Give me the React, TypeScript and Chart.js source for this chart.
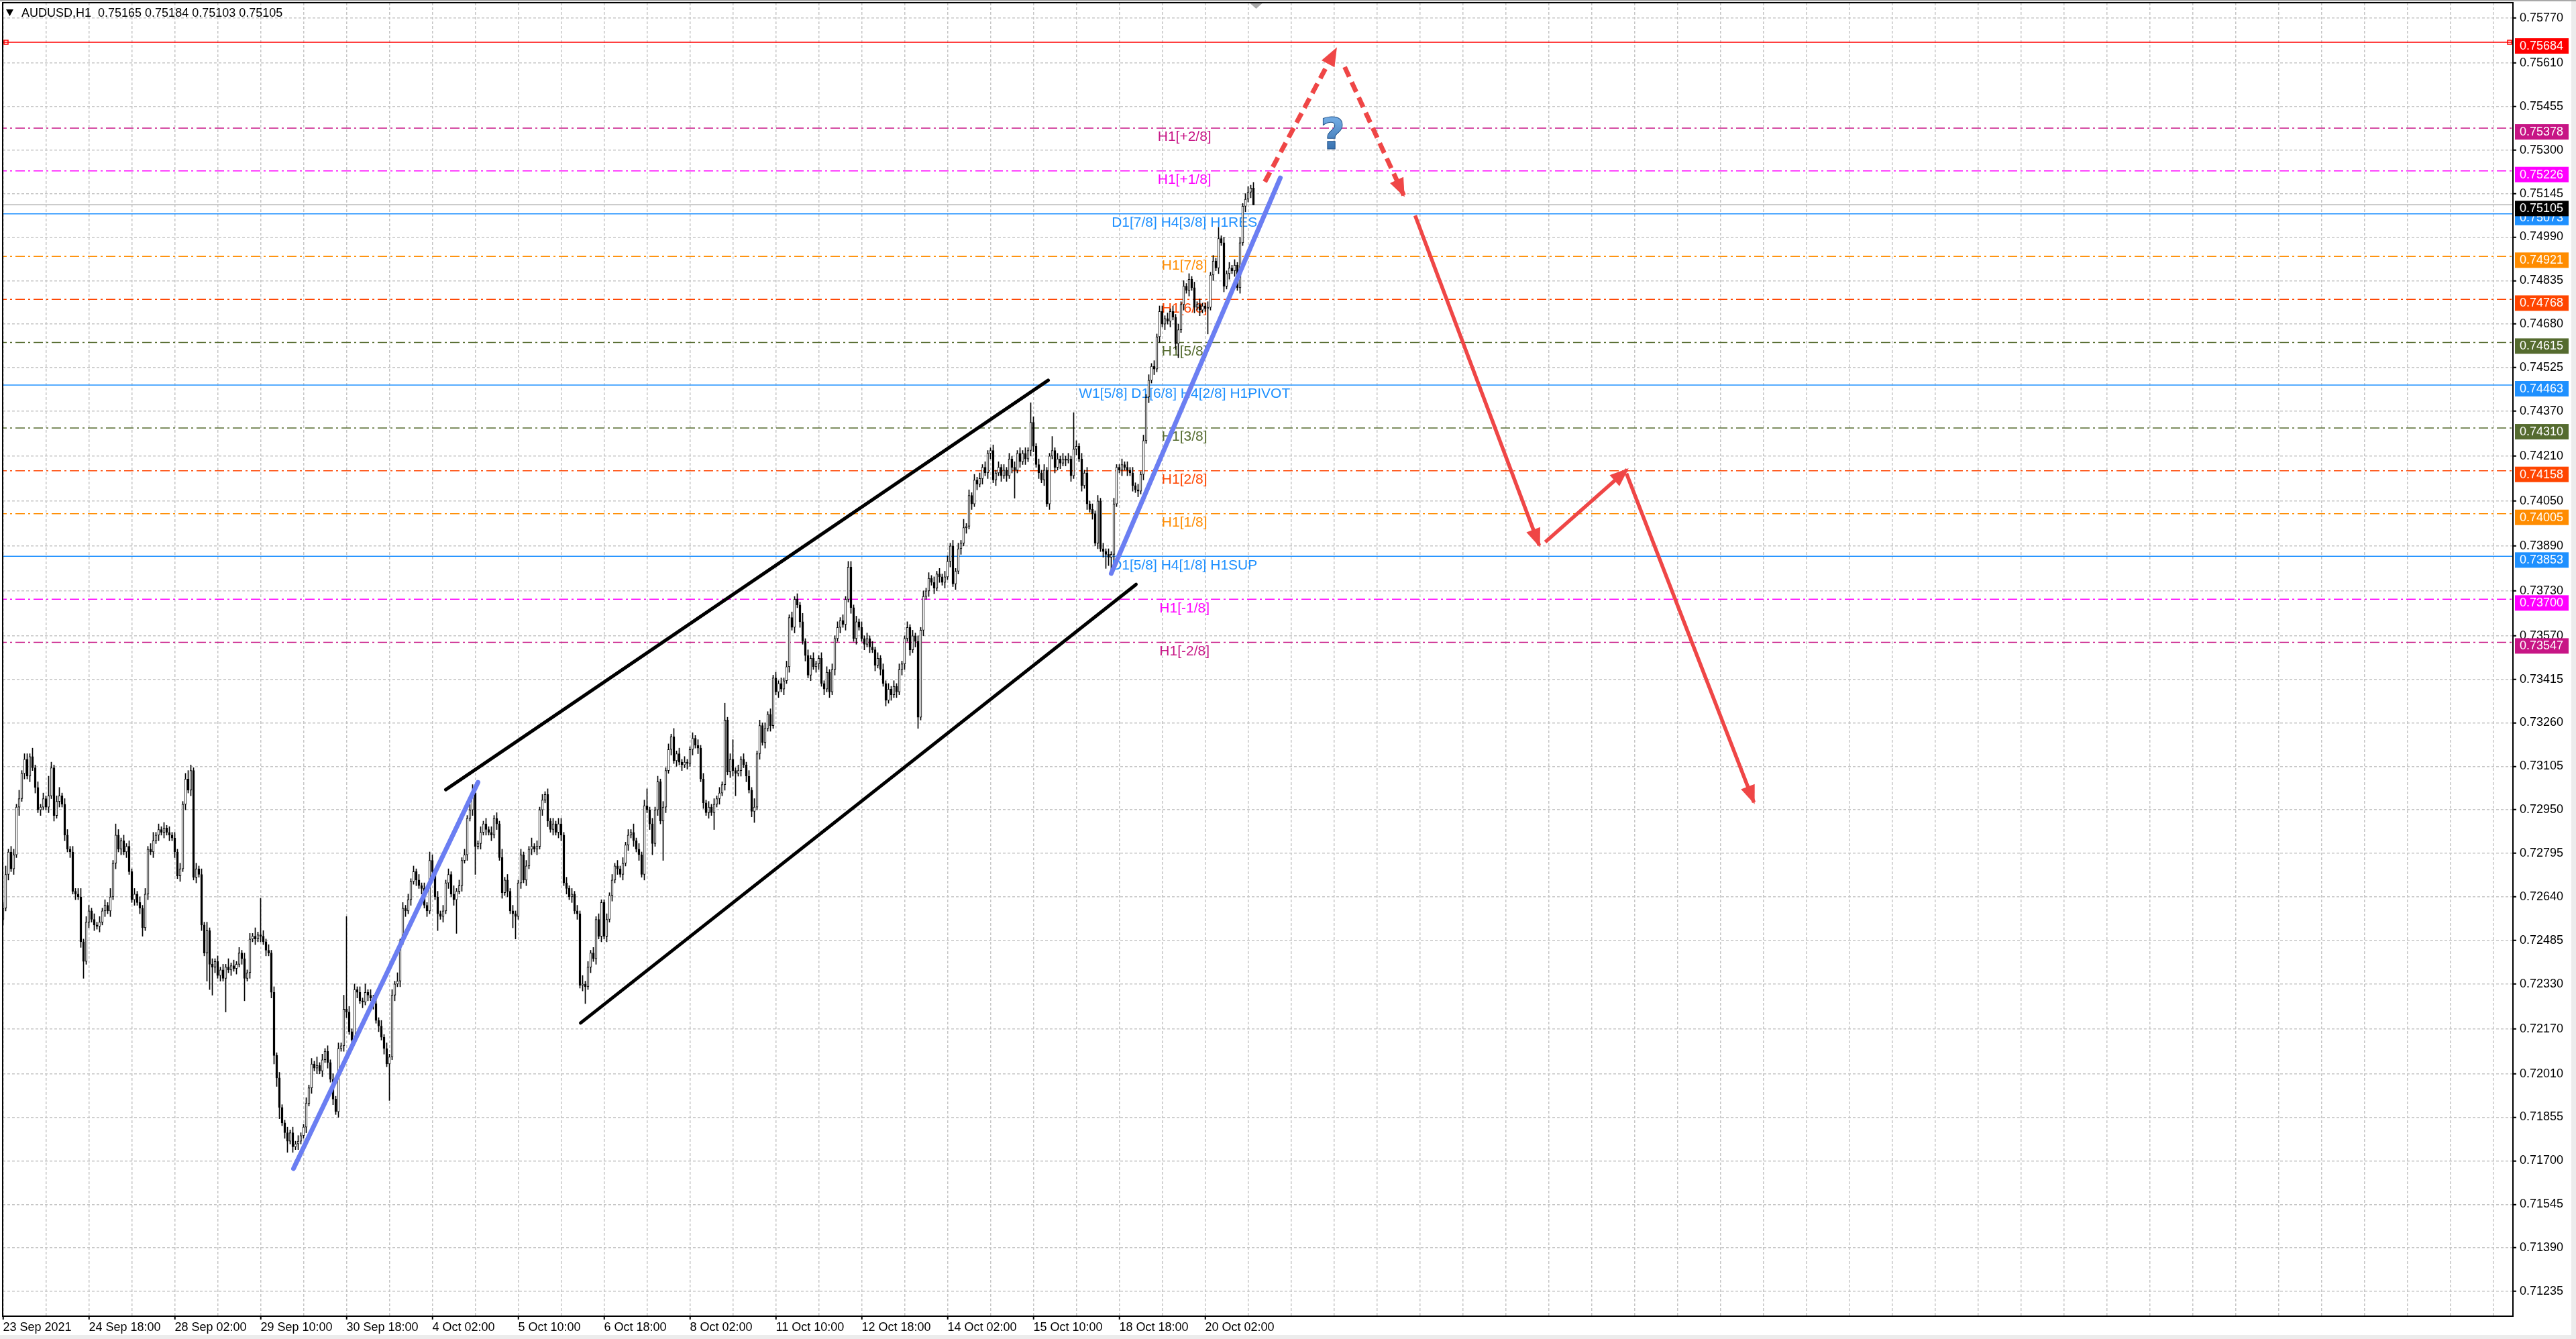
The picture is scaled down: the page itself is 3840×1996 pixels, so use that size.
import { useEffect, useRef } from "react"
import { Chart, registerables } from "chart.js"

Chart.register(...registerables)

// ---- data (prices in 0.00001 units above 0.70000) ----
const SYMBOL = "AUDUSD,H1"
const LAST_OHLC = [0.75165, 0.75184, 0.75103, 0.75105]
const PRICE_BASE = 0.7
const PRICE_UNIT = 0.00001
const PIP = 10

const FIRST_OPEN = 2560
// hourly closes, 16 bars per row (one grid cell)
const CLOSES = [
  2600, 2720, 2800, 2740, 2790, 2960, 2990, 3080, 3130, 3070, 3140, 3100, 3030, 2950, 2960, 2990,
  2960, 3000, 3100, 2930, 2980, 3000, 2970, 2860, 2810, 2800, 2660, 2650, 2640, 2480, 2410, 2550,
  2590, 2560, 2540, 2535, 2550, 2590, 2610, 2590, 2640, 2760, 2860, 2810, 2840, 2800, 2820, 2730,
  2630, 2650, 2620, 2600, 2530, 2650, 2810, 2800, 2840, 2860, 2880, 2870, 2885, 2870, 2860, 2850,
  2800, 2715, 2740, 2970, 3060, 3020, 3090, 2710, 2740, 2720, 2540, 2440, 2520, 2400, 2390, 2410,
  2360, 2380, 2350, 2390, 2380, 2395, 2385, 2400, 2440, 2420, 2350, 2370, 2490, 2500, 2490, 2505,
  2500, 2480, 2450, 2440, 2300, 2075, 1995, 1890, 1835, 1800, 1770, 1800, 1750, 1760, 1770, 1790,
  1820, 1905, 1960, 2045, 2030, 2040, 2020, 2060, 2090, 2050, 1990, 1920, 1875, 2100, 2110, 2240,
  2230, 2160, 2130, 2310, 2300, 2270, 2265, 2300, 2290, 2280, 2260, 2200, 2180, 2140, 2100, 2045,
  2070, 2290, 2330, 2340, 2480, 2600, 2590, 2630, 2695, 2730, 2700, 2680, 2670, 2610, 2590, 2770,
  2730, 2640, 2580, 2570, 2590, 2690, 2720, 2650, 2630, 2660, 2680, 2770, 2790, 2920, 2950, 3010,
  2820, 2830, 2870, 2900, 2880, 2870, 2860, 2920, 2900, 2780, 2655, 2700, 2660, 2590, 2580, 2570,
  2690, 2790, 2700, 2750, 2810, 2820, 2810, 2820, 2950, 2985, 3005, 2910, 2880, 2900, 2870, 2900,
  2860, 2690, 2670, 2640, 2650, 2590, 2580, 2325, 2330, 2320, 2390, 2440, 2420, 2560, 2500, 2620,
  2500, 2560, 2645, 2700, 2750, 2740, 2720, 2760, 2825, 2860, 2870, 2840, 2810, 2790, 2720, 2965,
  2950, 2900, 2830, 2950, 3050, 2910, 2960, 3090, 3165, 3210, 3125, 3150, 3120, 3110, 3120, 3115,
  3165, 3205, 3180, 3170, 3060, 2975, 2940, 2960, 2940, 2970, 2990, 3010, 3040, 3270, 3085, 3130,
  3090, 3080, 3090, 3130, 3110, 3070, 3020, 2945, 2960, 3150, 3250, 3190, 3240, 3290, 3250, 3420,
  3370, 3400, 3380, 3410, 3460, 3635, 3600, 3700, 3680, 3620, 3550, 3500, 3430, 3490, 3460, 3470,
  3490, 3400, 3380, 3440, 3370, 3450, 3560, 3600, 3625, 3610, 3700, 3815, 3670, 3560, 3620, 3600,
  3560, 3540, 3560, 3530, 3520, 3465, 3490, 3450, 3400, 3340, 3380, 3360, 3390, 3370, 3450, 3470,
  3560, 3600, 3520, 3570, 3550, 3280, 3590, 3710, 3730, 3775, 3760, 3740, 3790, 3780, 3760, 3780,
  3835, 3890, 3755, 3800, 3880, 3900, 3955, 3960, 4070, 4040, 4125, 4110, 4130, 4170, 4150, 4220,
  4230, 4125, 4150, 4170, 4140, 4160, 4140, 4200, 4170, 4160, 4220, 4190, 4220, 4200, 4230, 4330,
  4245, 4180, 4150, 4125, 4160, 4040, 4210, 4230, 4170, 4200, 4185, 4200, 4195, 4200, 4140, 4235,
  4245, 4200, 4105, 4150, 4040, 4020, 4005, 3900, 4050, 3880, 3870, 3860, 3850, 3860, 4040, 4170,
  4160, 4180, 4170, 4160, 4150, 4105, 4090, 4085, 4145, 4265, 4420, 4480, 4530, 4520, 4635, 4725,
  4680, 4700, 4690, 4725, 4705, 4610, 4660, 4750, 4815, 4800, 4840, 4810, 4740, 4750, 4730, 4745,
  4735, 4740, 4855, 4905, 4880, 4985, 4970, 4815, 4860, 4880, 4870, 4890, 4810, 4970, 5100, 5125,
  5150, 5165, 5105,
]
// wick lengths in pips (base-36 digits), same row layout as CLOSES
const WICK_UP = [
  "2312213122131212", "1721231221212312", "2121212131421212", "1212121231212121",
  "2121232121213121", "2121312121212131", "d212121211212121", "1212131212121215",
  "x212121312121212", "1213121212121213", "2121212131212123", "2121212121312121",
  "1212131212121212", "2121212131212121", "1212121212131212", "6121212121312121",
  "1212121212121612", "7121212131212121", "2121212121312121", "1212121212122121",
  "2121212121212121", "1212121212121212", "2121213121212121", "1212121212121217",
  "212121151212121d", "2121212121212121", "1212121212121212", "2121212121212121",
  "1212141212121212", "212",
].join("")
const WICK_DOWN = [
  "2121213121212121", "1212121212121261", "2121212121212121", "1212312121212121",
  "212121212121a9a2", "121c121212812121", "2121233412412121", "1212121212121212",
  "2121212121212121", "d121212121212121", "216121212c121212", "a121212121212158",
  "1212121212121212", "2121212126121212", "1212121212121212", "124121e212121212",
  "1212121216121212", "2812121241212121", "1212121212121212", "2121212121212121",
  "1212121212121212", "2121241212121212", "1212121212121212", "212121212a121212",
  "2121212121212121", "2121212121253521", "1212121212121212", "1212125121212121",
  "1912121212121212", "120",
].join("")

const TIME_LABELS = [
  "23 Sep 2021", "24 Sep 18:00", "28 Sep 02:00", "29 Sep 10:00", "30 Sep 18:00",
  "4 Oct 02:00", "5 Oct 10:00", "6 Oct 18:00", "8 Oct 02:00", "11 Oct 10:00",
  "12 Oct 18:00", "14 Oct 02:00", "15 Oct 10:00", "18 Oct 18:00", "20 Oct 02:00",
]
const TIME_LABEL_STEP = 32
const GRID_STEP = 16

const Y_TICKS = [
  0.7577, 0.7561, 0.75455, 0.753, 0.75145, 0.7499, 0.74835, 0.7468, 0.74525, 0.7437,
  0.7421, 0.7405, 0.7389, 0.7373, 0.7357, 0.73415, 0.7326, 0.73105, 0.7295, 0.72795,
  0.7264, 0.72485, 0.7233, 0.7217, 0.7201, 0.71855, 0.717, 0.71545, 0.7139, 0.71235,
]

const LEVEL_PRICES = [
  0.75378, 0.75226, 0.75073, 0.74921, 0.74768, 0.74615, 0.74463,
  0.7431, 0.74158, 0.74005, 0.73853, 0.737, 0.73547,
]
const LEVEL_LABELS = [
  "H1[+2/8]", "H1[+1/8]", "D1[7/8] H4[3/8] H1RES", "H1[7/8]", "H1[6/8]", "H1[5/8]",
  "W1[5/8] D1[6/8] H4[2/8] H1PIVOT", "H1[3/8]", "H1[2/8]", "H1[1/8]",
  "D1[5/8] H4[1/8] H1SUP", "H1[-1/8]", "H1[-2/8]",
]
const LEVEL_LABEL_AT = 440.3
const HIGH_LINE = 0.75684
const BID = 0.75105

// hand drawn objects, [bar index, price]
const BLUE_TRENDS = [
  [[108.25, 0.71672], [177, 0.73048]],
  [[413, 0.73792], [476, 0.75201]],
]
const CHANNEL = [
  [[165, 0.73022], [389.5, 0.7448]],
  [[215.25, 0.72191], [422.25, 0.73753]],
]
const FORECAST_DASHED = [
  [[470.25, 0.75187], [496.75, 0.7566]],
  [[500, 0.75596], [522, 0.75139]],
]
const FORECAST_SOLID = [
  [[526.25, 0.75067], [572.5, 0.73892]],
  [[574.75, 0.73904], [605.25, 0.74162]],
  [[605, 0.74148], [652.5, 0.72977]],
]
const QUESTION_AT = [495.5, 0.75345]

// ---- layout / style ----
const W = 3840
const H = 1996
const X_MIN = -0.125
const X_MAX = 935.375
const Y_MIN = 0.711466
const Y_MAX = 0.75825
const GRID_COLOR = "#c6c6c6"
const AXIS_FONT = '"Liberation Sans", Arial, sans-serif'
const LABEL_FONT = '"Liberation Sans", Arial, sans-serif'
const LEVEL_COLORS = [
  "#c71585", "#ff00ff", "#1e90ff", "#ff8c00", "#ff4500", "#556b2f", "#1e90ff",
  "#556b2f", "#ff4500", "#ff8c00", "#1e90ff", "#ff00ff", "#c71585",
]
const LEVEL_SOLID = [false, false, true, false, false, false, true, false, false, false, true, false, false]
const ARROW_RED = "#ef4646"

const toPrice = (v: number) => PRICE_BASE + v * PRICE_UNIT

function buildCandles() {
  return CLOSES.map((c, i) => {
    const o = i === 0 ? FIRST_OPEN : CLOSES[i - 1]
    const up = parseInt(WICK_UP[i] || "0", 36) * PIP
    const dn = parseInt(WICK_DOWN[i] || "0", 36) * PIP
    return {
      x: i,
      o: toPrice(o),
      c: toPrice(c),
      h: toPrice(Math.max(o, c) + up),
      l: toPrice(Math.min(o, c) - dn),
    }
  })
}

function segDataset(seg: number[][], color: string, width: number, dash: number[], order: number, cap = "butt") {
  return {
    type: "line" as const,
    data: seg.map(([x, y]) => ({ x, y })),
    borderColor: color,
    borderWidth: width,
    borderDash: dash,
    borderCapStyle: cap,
    pointRadius: 0,
    fill: false,
    tension: 0,
    order,
  }
}

function arrowHead(ctx: CanvasRenderingContext2D, x0: number, y0: number, x1: number, y1: number) {
  const a = Math.atan2(y1 - y0, x1 - x0)
  const len = 28
  const half = 11
  const tx = x1 + Math.cos(a) * 3
  const ty = y1 + Math.sin(a) * 3
  const bx = tx - len * Math.cos(a)
  const by = ty - len * Math.sin(a)
  ctx.beginPath()
  ctx.moveTo(tx, ty)
  ctx.lineTo(bx + half * Math.sin(a), by - half * Math.cos(a))
  ctx.lineTo(bx - half * Math.sin(a), by + half * Math.cos(a))
  ctx.closePath()
  ctx.fillStyle = ARROW_RED
  ctx.fill()
}

const overlay = {
  id: "mt4overlay",
  beforeDraw(chart: any) {
    const { ctx } = chart
    ctx.save()
    ctx.fillStyle = "#fff"
    ctx.fillRect(0, 0, W, H)
    ctx.fillStyle = "#ececec"
    ctx.fillRect(0, H - 6, W, 6)
    ctx.fillRect(W - 7, 0, 7, H)
    ctx.fillStyle = "#a8a8a8"
    ctx.fillRect(0, 0, W, 2)
    ctx.restore()
  },
  beforeDatasetsDraw(chart: any) {
    const { ctx, scales } = chart
    ctx.save()
    ctx.font = `21px ${LABEL_FONT}`
    ctx.textAlign = "center"
    ctx.textBaseline = "top"
    LEVEL_PRICES.forEach((p, k) => {
      ctx.fillStyle = LEVEL_COLORS[k]
      ctx.fillText(LEVEL_LABELS[k], scales.x.getPixelForValue(LEVEL_LABEL_AT), scales.y.getPixelForValue(p) + 3)
    })
    ctx.restore()
  },
  afterDatasetsDraw(chart: any) {
    const { ctx, scales, chartArea } = chart
    const px = (v: number) => scales.x.getPixelForValue(v)
    const py = (v: number) => scales.y.getPixelForValue(v)
    ctx.save()
    ;[...FORECAST_DASHED, ...FORECAST_SOLID].forEach(([a, b]) => {
      arrowHead(ctx, px(a[0]), py(a[1]), px(b[0]), py(b[1]))
    })
    // question mark
    const qx = px(QUESTION_AT[0])
    const qy = py(QUESTION_AT[1])
    const g = ctx.createLinearGradient(0, qy - 26, 0, qy + 26)
    g.addColorStop(0, "#6fa8e0")
    g.addColorStop(1, "#2e67a6")
    ctx.font = 'bold 64px "DejaVu Sans", sans-serif'
    ctx.textAlign = "center"
    ctx.textBaseline = "middle"
    ctx.fillStyle = g
    ctx.fillText("?", qx, qy)
    ctx.lineWidth = 1
    ctx.strokeStyle = "#24558c"
    ctx.strokeText("?", qx, qy)
    // chart shift marker
    const sx = px(CLOSES.length)
    ctx.fillStyle = "#a8a8a8"
    ctx.beginPath()
    ctx.moveTo(sx - 9, chartArea.top + 1)
    ctx.lineTo(sx + 9, chartArea.top + 1)
    ctx.lineTo(sx, chartArea.top + 9)
    ctx.closePath()
    ctx.fill()
    // anchors of the high line
    const hy = py(HIGH_LINE)
    ctx.strokeStyle = "#ff0000"
    ctx.lineWidth = 1.5
    ctx.strokeRect(chartArea.left + 2, hy - 3, 6, 6)
    ctx.strokeRect(chartArea.right - 8, hy - 3, 6, 6)
    ctx.restore()
  },
  afterDraw(chart: any) {
    const { ctx, scales, chartArea } = chart
    const py = (v: number) => scales.y.getPixelForValue(v)
    ctx.save()
    ctx.strokeStyle = "#000"
    ctx.lineWidth = 2
    ctx.strokeRect(chartArea.left, chartArea.top, chartArea.right - chartArea.left, chartArea.bottom - chartArea.top)
    // price tags
    const tags: [number, string][] = [
      [HIGH_LINE, "#ff0000"],
      ...LEVEL_PRICES.map((p, k) => [p, LEVEL_COLORS[k]] as [number, string]),
      [BID, "#000000"],
    ]
    ctx.font = `18px ${AXIS_FONT}`
    ctx.textAlign = "left"
    ctx.textBaseline = "middle"
    tags.forEach(([p, col]) => {
      const y = py(p)
      ctx.fillStyle = col
      ctx.fillRect(chartArea.right + 3, y - 6, 80, 23)
      ctx.fillStyle = "#fff"
      ctx.fillText(p.toFixed(5), chartArea.right + 10, y + 6)
    })
    // title
    ctx.fillStyle = "#000"
    ctx.beginPath()
    ctx.moveTo(9, 14)
    ctx.lineTo(20, 14)
    ctx.lineTo(14.5, 24)
    ctx.closePath()
    ctx.fill()
    ctx.font = `18px ${AXIS_FONT}`
    ctx.fillText(`${SYMBOL}  ${LAST_OHLC.map((v) => v.toFixed(5)).join(" ")}`, 32, 20)
    ctx.restore()
  },
}

export default function App() {
  const chartRef = useRef<HTMLCanvasElement>(null)
  const chartInstance = useRef<Chart | null>(null)

  useEffect(() => {
    if (!chartRef.current) return
    document.body.style.margin = "0"
    if (chartInstance.current) chartInstance.current.destroy()
    const ctx = chartRef.current.getContext("2d")
    if (!ctx) return

    const candles = buildCandles()
    const gridTicks: number[] = []
    for (let v = 0; v <= X_MAX; v += GRID_STEP) gridTicks.push(v)

    const levelSets = LEVEL_PRICES.map((p, k) =>
      segDataset([[X_MIN - 2, p], [X_MAX + 2, p]], LEVEL_COLORS[k], 1.5, LEVEL_SOLID[k] ? [] : [14, 5, 3, 5], 20),
    )

    const datasets: any[] = [
      ...levelSets,
      segDataset([[X_MIN - 2, HIGH_LINE], [X_MAX + 2, HIGH_LINE]], "#ff0000", 1.5, [], 20),
      segDataset([[X_MIN - 2, BID], [X_MAX + 2, BID]], "#b4b4b4", 1.5, [], 20),
      {
        type: "bar",
        data: candles.map((k) => ({ x: k.x, y: [k.l, k.h] })),
        backgroundColor: "#000",
        borderWidth: 0,
        barThickness: 1,
        grouped: false,
        order: 10,
      },
      {
        type: "bar",
        data: candles.map((k) => ({ x: k.x, y: [k.o, k.c] })),
        backgroundColor: candles.map((k) => (k.c >= k.o ? "#ffffff" : "#000000")),
        borderColor: "#000",
        borderWidth: 1,
        borderSkipped: false,
        barThickness: 3,
        minBarLength: 1,
        grouped: false,
        order: 9,
      },
      ...CHANNEL.map((s) => segDataset(s, "#000", 5, [], 3, "round")),
      ...BLUE_TRENDS.map((s) => segDataset(s, "#6b7ef2", 7, [], 2, "round")),
      ...FORECAST_DASHED.map((s) => segDataset(s, ARROW_RED, 7, [16, 9], 1)),
      ...FORECAST_SOLID.map((s) => segDataset(s, ARROW_RED, 5.5, [], 1)),
    ]

    chartInstance.current = new Chart(ctx, {
      type: "bar",
      data: { datasets },
      plugins: [overlay],
      options: {
        responsive: false,
        devicePixelRatio: 1,
        animation: false,
        events: [],
        layout: { padding: { left: 4, top: 4, right: 0, bottom: 0 } },
        plugins: { legend: { display: false }, tooltip: { enabled: false } },
        scales: {
          x: {
            type: "linear",
            position: "bottom",
            min: X_MIN,
            max: X_MAX,
            offset: false,
            bounds: "data",
            afterBuildTicks: (s: any) => {
              s.ticks = gridTicks.map((v) => ({ value: v }))
            },
            afterFit: (s: any) => {
              s.height = H - 1962
              s.paddingLeft = 0
              s.paddingRight = 0
            },
            grid: {
              offset: false,
              color: GRID_COLOR,
              lineWidth: 1.5,
              drawTicks: true,
              tickLength: 5,
              tickWidth: 2,
              tickColor: (c: any) => {
                const v = c.tick ? c.tick.value : -1
                return v % TIME_LABEL_STEP === 0 && v / TIME_LABEL_STEP < TIME_LABELS.length ? "#000" : "rgba(0,0,0,0)"
              },
            },
            border: { display: true, color: "#000", width: 2, dash: [4, 3] },
            ticks: {
              autoSkip: false,
              maxRotation: 0,
              minRotation: 0,
              align: "start",
              padding: 1,
              color: "#000",
              font: { family: AXIS_FONT, size: 18 },
              callback: (v: any) => {
                const k = Number(v) / TIME_LABEL_STEP
                return Number.isInteger(k) && k < TIME_LABELS.length ? TIME_LABELS[k] : ""
              },
            },
          },
          y: {
            type: "linear",
            position: "right",
            min: Y_MIN,
            max: Y_MAX,
            bounds: "data",
            afterBuildTicks: (s: any) => {
              s.ticks = Y_TICKS.map((v) => ({ value: v }))
            },
            afterFit: (s: any) => {
              s.width = W - 3746
              s.paddingTop = 0
              s.paddingBottom = 0
            },
            grid: {
              color: GRID_COLOR,
              lineWidth: 1.5,
              drawTicks: true,
              tickLength: 5,
              tickWidth: 2,
              tickColor: "#000",
            },
            border: { display: true, color: "#000", width: 2, dash: [4, 3] },
            ticks: {
              padding: 5,
              color: "#000",
              font: { family: AXIS_FONT, size: 18 },
              callback: (v: any) => Number(v).toFixed(5),
            },
          },
        },
      },
    } as any)

    return () => {
      if (chartInstance.current) {
        chartInstance.current.destroy()
        chartInstance.current = null
      }
    }
  }, [])

  return (
    <div style={{ width: W, height: H }}>
      <canvas ref={chartRef} width={W} height={H} style={{ display: "block" }} aria-label="AUDUSD H1 chart"></canvas>
    </div>
  )
}
